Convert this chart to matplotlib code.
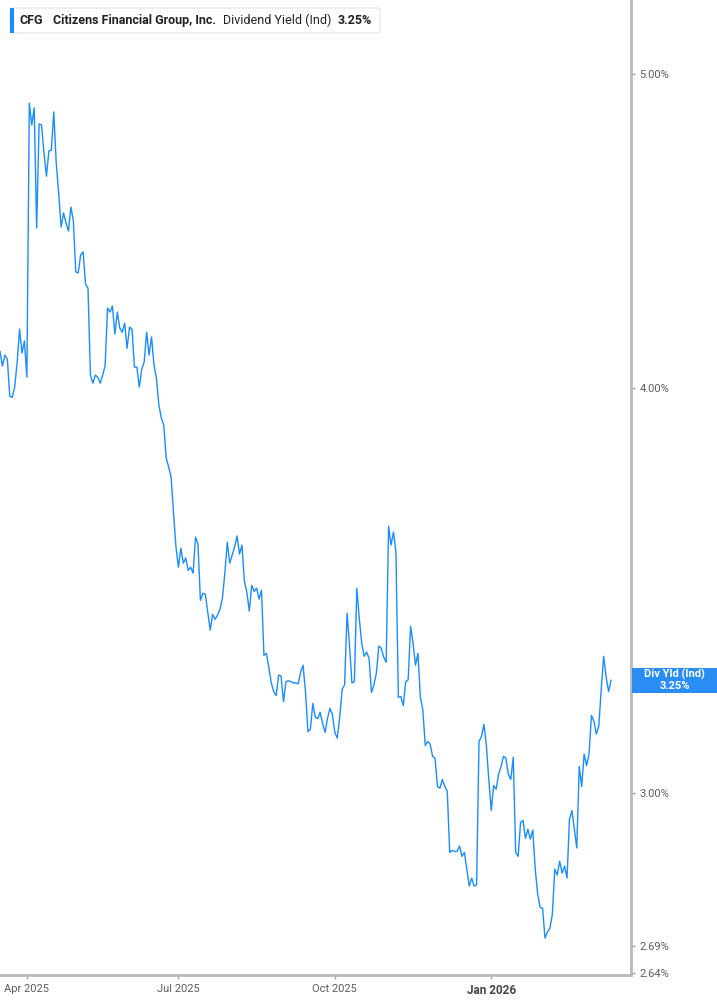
import matplotlib
matplotlib.use("Agg")
import matplotlib.pyplot as plt
from matplotlib.patches import FancyBboxPatch, Rectangle
from matplotlib.ticker import FixedLocator, NullLocator
import numpy as np
import pandas as pd

plt.rcParams['font.family'] = ['Roboto', 'DejaVu Sans']

# header / label texts
ticker = "CFG"
company = "Citizens Financial Group, Inc."
metric = "Dividend Yield (Ind)"
tag = "Div Yld (Ind)"

# trading days, one point per session
start_day = "2025-03-17"
market_holidays = ["2025-04-18", "2025-05-26", "2025-06-19", "2025-07-04",
                   "2025-09-01", "2025-11-27", "2025-12-25", "2026-01-01",
                   "2026-01-19", "2026-02-16"]

# dividend yield in %
div_yield = [
    4.105, 4.063, 4.095, 4.083, 3.977, 3.974, 4.003, 4.072, 4.171, 4.101,
    4.136, 4.031, 4.898, 4.822, 4.881, 4.482, 4.826, 4.822, 4.727, 4.650,
    4.734, 4.737, 4.867, 4.694, 4.595, 4.485, 4.530, 4.498, 4.472, 4.549,
    4.507, 4.344, 4.341, 4.397, 4.406, 4.307, 4.294, 4.037, 4.014, 4.037,
    4.031,
    4.014, 4.037, 4.063, 4.234, 4.222, 4.240, 4.157, 4.222, 4.174, 4.162,
    4.189, 4.115, 4.177, 4.171, 4.060, 4.060, 4.003, 4.054, 4.075, 4.162,
    4.095, 4.148, 4.066, 4.029, 3.952, 3.916, 3.896, 3.806, 3.782, 3.755,
    3.660, 3.573, 3.522, 3.570, 3.532, 3.545, 3.514,
    3.522, 3.507, 3.598, 3.580, 3.440, 3.457, 3.455, 3.411, 3.368, 3.406,
    3.394, 3.404, 3.418, 3.445, 3.507, 3.585, 3.532, 3.552, 3.573, 3.601,
    3.555, 3.578, 3.487, 3.460, 3.414, 3.477, 3.462, 3.470, 3.443, 3.465,
    3.308, 3.313, 3.280, 3.244, 3.224, 3.215, 3.262, 3.260,
    3.201, 3.247, 3.249, 3.247, 3.244, 3.244, 3.242, 3.269, 3.285, 3.224,
    3.134, 3.139, 3.197, 3.166, 3.163, 3.177, 3.152, 3.132, 3.163, 3.186,
    3.172, 3.132, 3.119, 3.166, 3.229, 3.240, 3.409, 3.332, 3.244, 3.247,
    3.470, 3.396, 3.337, 3.306, 3.316, 3.301, 3.222, 3.240, 3.267, 3.330,
    3.325, 3.304, 3.292, 3.626, 3.578, 3.611, 3.560, 3.211, 3.213, 3.192,
    3.247, 3.251, 3.377, 3.337, 3.285, 3.313, 3.211, 3.183, 3.103, 3.112,
    3.106, 3.079, 3.075, 3.014, 3.010, 3.029, 3.014, 3.004, 2.876, 2.880,
    2.878, 2.878, 2.889, 2.868, 2.876, 2.842, 2.808, 2.824, 2.808, 2.810,
    3.112, 3.123, 3.150, 3.103, 3.029, 2.963, 3.016, 3.008, 3.040, 3.057,
    3.079, 3.075, 3.040, 3.029, 3.077, 2.876, 2.868, 2.938, 2.942, 2.905,
    2.924, 2.903, 2.922, 2.842, 2.792, 2.766, 2.764, 2.706, 2.718, 2.725,
    2.752, 2.842, 2.830, 2.858, 2.834, 2.848, 2.824, 2.944, 2.963, 2.924,
    2.885, 3.057, 3.014, 3.084, 3.059, 3.084, 3.170, 3.157, 3.128, 3.146,
    3.229, 3.306, 3.258, 3.224, 3.25,
]

y_ticks = [2.64, 2.69, 3.00, 4.00, 5.00]
x_ticks = ["2025-04-01", "2025-07-01", "2025-10-01", "2026-01-01"]
x_labels = ["Apr 2025", "Jul 2025", "Oct 2025", "Jan 2026"]

dates = pd.bdate_range(start_day, periods=len(div_yield), freq="C",
                       holidays=market_holidays)
# sessions are drawn evenly spaced (no weekend gaps)
pos = np.arange(len(dates))
tick_pos = [dates.searchsorted(pd.Timestamp(d)) for d in x_ticks]

blue = "#1a8cff"
W, H = 717, 1005
fig = plt.figure(figsize=(W / 100, H / 100), dpi=100)
ax = fig.add_axes([0, 30.5 / H, 631 / W, 1 - 30.5 / H])

ax.plot(pos, div_yield, color=blue, lw=1.0)

ax.set_yscale("log")
ax.set_ylim(2.637, 5.27)
ax.set_xlim(0, (len(pos) - 1) * 631 / 611)

ax.yaxis.tick_right()
ax.yaxis.set_major_locator(FixedLocator(y_ticks))
ax.yaxis.set_minor_locator(NullLocator())
ax.set_yticklabels([f"{t:.2f}%" for t in y_ticks])
ax.tick_params(axis="y", length=3, width=1, color="#a0a0a0", labelsize=8,
               labelcolor="#5c5c5c", pad=3)

ax.set_xticks(tick_pos)
ax.set_xticklabels(x_labels)
ax.xaxis.set_minor_locator(NullLocator())
ax.tick_params(axis="x", length=3, width=1, color="#a0a0a0", labelsize=8,
               labelcolor="#5c5c5c", pad=4)
jan = ax.get_xticklabels()[-1]
jan.set_fontweight("bold")
jan.set_color("#444444")
jan.set_fontsize(8.5)

for s in ["left", "top"]:
    ax.spines[s].set_visible(False)
for s in ["right", "bottom"]:
    ax.spines[s].set_color("#b8b8b8")
    ax.spines[s].set_linewidth(2)

# header box
fig.patches.append(FancyBboxPatch((10 / W, 1 - 33 / H), 370 / W, 25 / H,
                                  boxstyle="round,pad=0,rounding_size=0.003",
                                  transform=fig.transFigure, fc="white",
                                  ec="#e4e4e4", lw=0.8))
fig.patches.append(Rectangle((10 / W, 1 - 33 / H), 3.5 / W, 25 / H,
                             transform=fig.transFigure, fc=blue, ec="none"))
hy = 1 - 20.5 / H
fig.text(20 / W, hy, ticker, fontsize=9, fontweight="bold", color="#222222", va="center")
fig.text(53 / W, hy, company, fontsize=9, fontweight="bold", color="#222222", va="center")
fig.text(223 / W, hy, metric, fontsize=9, color="#222222", va="center")
fig.text(338 / W, hy, f"{div_yield[-1]:.2f}%", fontsize=9, fontweight="bold",
         color="#222222", va="center")

# last value tag on the right axis
last_y = ax.transData.transform((pos[-1], div_yield[-1]))[1]
fig.patches.append(Rectangle((632 / W, (last_y - 12.5) / H), (W - 632) / W, 25 / H,
                             transform=fig.transFigure, fc="#2a8cf5", ec="none"))
fig.text(674.5 / W, (last_y + 5.5) / H, tag, fontsize=8, fontweight="bold",
         color="white", ha="center", va="center")
fig.text(674.5 / W, (last_y - 5.5) / H, f"{div_yield[-1]:.2f}%", fontsize=8,
         fontweight="bold", color="white", ha="center", va="center")

fig.savefig("out.png", dpi=100)
